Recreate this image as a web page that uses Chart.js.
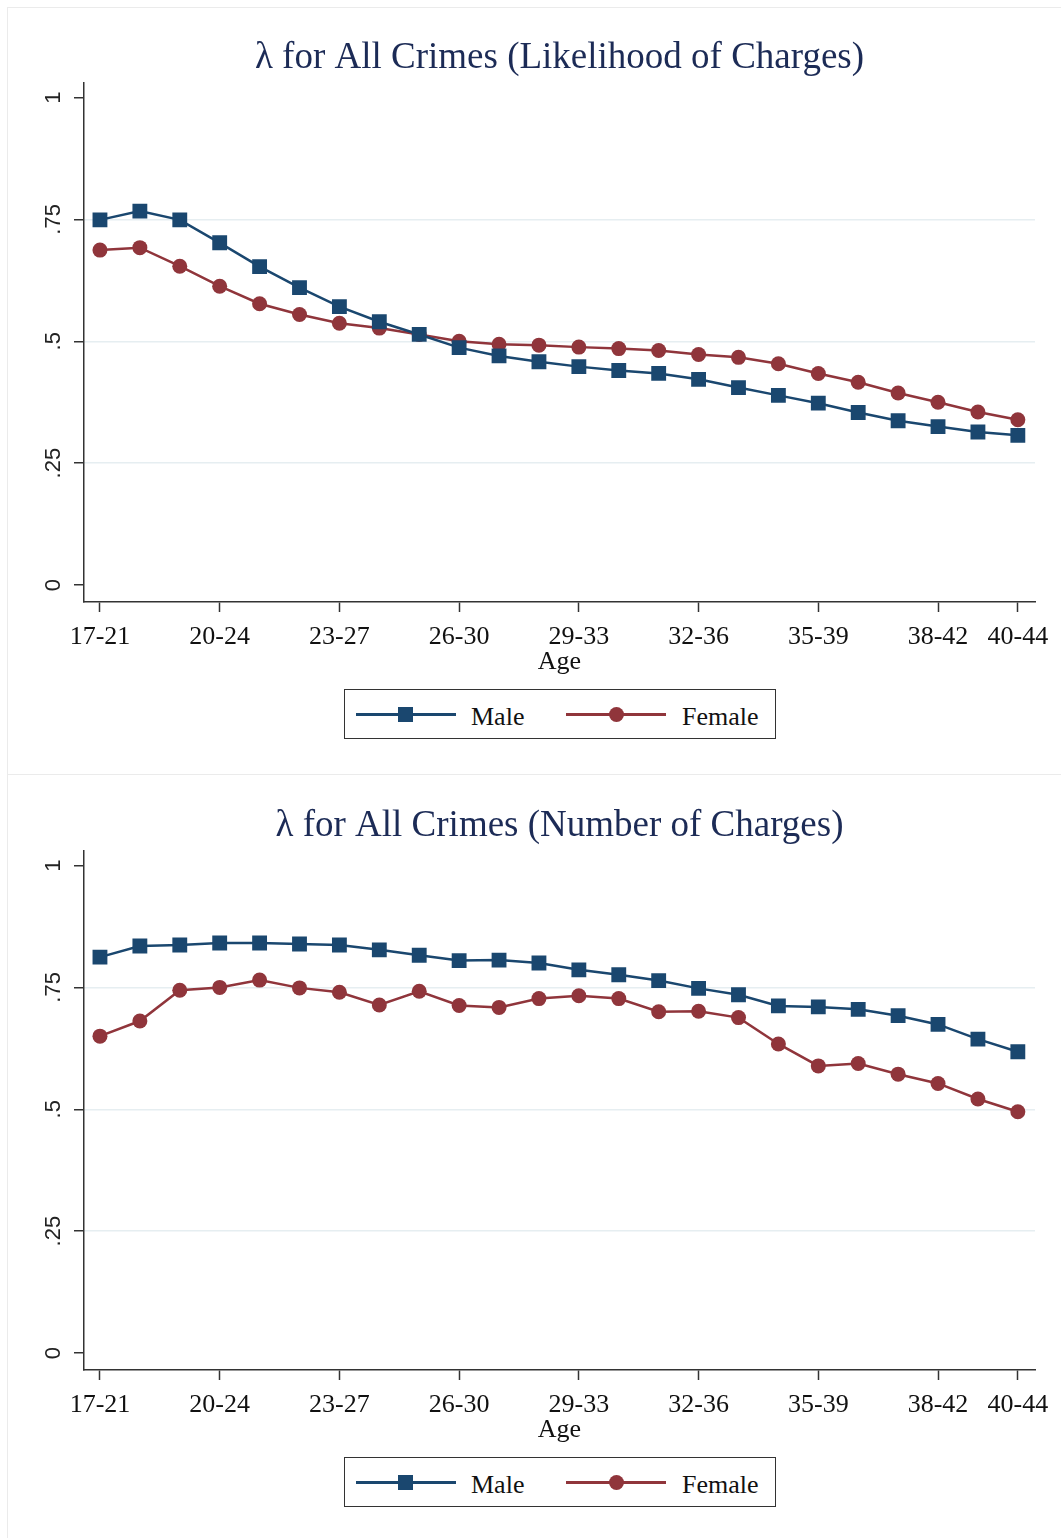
<!DOCTYPE html>
<html>
<head>
<meta charset="utf-8">
<script src="https://cdn.jsdelivr.net/npm/chart.js@4.4.0/dist/chart.umd.min.js"></script>
<style>
    body { margin: 0; background: #fff; }
    #lienzo { position: relative; width: 1061px; height: 1538px; overflow: hidden; background: #fff; }
    .panel { position: absolute; left: 7px; width: 1070px; border: 1px solid #ebebeb; box-sizing: border-box; }
    .caja-grafico { position: absolute; left: 0; width: 1061px; height: 700px; }
    .leyenda { position: absolute; left: 344px; width: 432px; height: 50px; border: 1.5px solid #333;
               box-sizing: border-box; background: #fff; font-family: 'Liberation Serif', serif; font-size: 26px; color: #111; }
    .leyenda .linea { position: absolute; height: 2.5px; top: 23px; width: 100px; }
    .leyenda .marca { position: absolute; width: 15px; height: 15px; top: 17px; }
    .leyenda .texto { position: absolute; top: 12px; line-height: 30px; }
</style>
</head>
<body>
<div id="lienzo">
    <div class="panel" style="top:7px; height:768px;"></div>
    <div class="panel" style="top:774px; height:780px;"></div>

    <div class="caja-grafico" style="top:0px;"><canvas id="grafico-probabilidad" width="1061" height="700"></canvas></div>
    <div class="caja-grafico" style="top:768px;"><canvas id="grafico-numero" width="1061" height="700"></canvas></div>

    <div class="leyenda" style="top:689px;">
        <div class="linea" style="left:11px; background:#1a476f;"></div>
        <div class="marca" style="left:53px; background:#1a476f;"></div>
        <div class="texto" style="left:126px;">Male</div>
        <div class="linea" style="left:221px; background:#90353b;"></div>
        <div class="marca" style="left:264px; background:#90353b; border-radius:50%;"></div>
        <div class="texto" style="left:337px;">Female</div>
    </div>
    <div class="leyenda" style="top:1457px;">
        <div class="linea" style="left:11px; background:#1a476f;"></div>
        <div class="marca" style="left:53px; background:#1a476f;"></div>
        <div class="texto" style="left:126px;">Male</div>
        <div class="linea" style="left:221px; background:#90353b;"></div>
        <div class="marca" style="left:264px; background:#90353b; border-radius:50%;"></div>
        <div class="texto" style="left:337px;">Female</div>
    </div>
</div>

<script>
// ===========================================================
// datos de las dos graficas
// ===========================================================

// categorias del eje x: ventanas de edad de 5 años
const edades = ['17-21', '18-22', '19-23', '20-24', '21-25', '22-26', '23-27', '24-28',
                '25-29', '26-30', '27-31', '28-32', '29-33', '30-34', '31-35', '32-36',
                '33-37', '34-38', '35-39', '36-40', '37-41', '38-42', '39-43', '40-44'];

// posiciones (indices) de las edades que llevan etiqueta en el eje x
const marcas_x = [0, 3, 6, 9, 12, 15, 18, 21, 23];

// marcas del eje y
const marcas_y = [0, 0.25, 0.5, 0.75, 1];

// grafica de arriba: probabilidad de cargos
const probabilidad_hombres = [0.749, 0.767, 0.749, 0.702, 0.653, 0.610, 0.571, 0.540,
                              0.514, 0.487, 0.470, 0.458, 0.448, 0.440, 0.434, 0.422,
                              0.405, 0.389, 0.373, 0.354, 0.337, 0.325, 0.314, 0.307];
const probabilidad_mujeres = [0.687, 0.692, 0.654, 0.613, 0.577, 0.555, 0.537, 0.527,
                              0.514, 0.500, 0.494, 0.492, 0.488, 0.485, 0.481, 0.473,
                              0.467, 0.454, 0.434, 0.416, 0.394, 0.375, 0.355, 0.339];

// grafica de abajo: numero de cargos
const numero_hombres = [0.812, 0.835, 0.837, 0.841, 0.841, 0.839, 0.837, 0.827,
                        0.816, 0.805, 0.806, 0.800, 0.786, 0.776, 0.764, 0.748,
                        0.735, 0.712, 0.710, 0.705, 0.692, 0.674, 0.644, 0.618];
const numero_mujeres = [0.650, 0.681, 0.744, 0.750, 0.765, 0.749, 0.740, 0.714,
                        0.742, 0.713, 0.709, 0.727, 0.733, 0.727, 0.700, 0.701,
                        0.688, 0.634, 0.589, 0.594, 0.572, 0.553, 0.521, 0.495];

const color_hombres = '#1a476f';
const color_mujeres = '#90353b';
const fuente_serif = "'Liberation Serif', 'Times New Roman', serif";


// -----------------------------------------------------------
// plugin: etiquetas_y_rotadas
// chart.js no rota las etiquetas del eje y, asi que se dibujan
// a mano en la posicion que da la propia escala.
// ademas centra el titulo sobre el area de la grafica
// -----------------------------------------------------------
const etiquetas_y_rotadas = {
    id: 'etiquetas_y_rotadas',
    afterLayout(chart) {
        // el titulo se centra sobre el area de dibujo, como en stata
        if (chart.titleBlock) {
            chart.titleBlock.left = chart.chartArea.left;
            chart.titleBlock.right = chart.chartArea.right;
        }
    },
    afterDraw(chart) {
        const escala = chart.scales.y;
        const ctx = chart.ctx;
        ctx.save();
        ctx.fillStyle = '#222';
        ctx.font = "22px 'Liberation Sans', Arial, sans-serif";
        ctx.textAlign = 'center';
        ctx.textBaseline = 'middle';
        escala.ticks.forEach(marca => {
            const y = escala.getPixelForValue(marca.value);
            const texto = marca.value === 0 || marca.value === 1
                ? String(marca.value)
                : String(marca.value).replace('0.', '.');
            ctx.save();
            ctx.translate(54, y);
            ctx.rotate(-Math.PI / 2);
            ctx.fillText(texto, 0, 0);
            ctx.restore();
        });
        ctx.restore();
    }
};


// -----------------------------------------------------------
// funcion: crear_grafico
// arma una de las dos graficas de lineas (hombres y mujeres)
// -----------------------------------------------------------
function crear_grafico(id, titulo, datos_hombres, datos_mujeres) {

    const contexto = document.getElementById(id).getContext('2d');

    return new Chart(contexto, {
        type: 'line',
        data: {
            datasets: [{
                label: 'Male',
                data: datos_hombres.map((valor, indice) => ({ x: indice, y: valor })),
                borderColor: color_hombres,
                backgroundColor: color_hombres,
                borderWidth: 2.5,
                pointStyle: 'rect',
                pointRadius: 10.5,
                pointBorderWidth: 0,
                tension: 0
            }, {
                label: 'Female',
                data: datos_mujeres.map((valor, indice) => ({ x: indice, y: valor })),
                borderColor: color_mujeres,
                backgroundColor: color_mujeres,
                borderWidth: 2.5,
                pointStyle: 'circle',
                pointRadius: 7.5,
                pointBorderWidth: 0,
                tension: 0
            }]
        },
        options: {
            responsive: false,
            animation: false,
            layout: { padding: { left: 0, right: 26, top: 0, bottom: 0 } },
            plugins: {
                legend: { display: false },
                tooltip: { enabled: false },
                title: {
                    display: true,
                    text: titulo,
                    color: '#1c2b56',
                    font: { family: fuente_serif, size: 37, weight: 'normal' },
                    padding: { top: 36, bottom: 2 }
                }
            },
            scales: {
                x: {
                    type: 'linear',
                    min: -0.4,
                    max: 23.43,
                    afterBuildTicks: escala => { escala.ticks = marcas_x.map(v => ({ value: v })); },
                    afterFit: escala => { escala.height = 98; escala.paddingLeft = 0; escala.paddingRight = 0; },
                    ticks: {
                        autoSkip: false,
                        maxRotation: 0,
                        minRotation: 0,
                        padding: 10,
                        color: '#111',
                        font: { family: fuente_serif, size: 26 },
                        callback: valor => edades[valor]
                    },
                    grid: { drawOnChartArea: false, tickLength: 10, tickColor: '#333', tickWidth: 1.5 },
                    border: { color: '#333', width: 1.5 },
                    title: {
                        display: true,
                        text: 'Age',
                        color: '#111',
                        font: { family: fuente_serif, size: 26 },
                        padding: { top: 0, bottom: 22 }
                    }
                },
                y: {
                    min: -0.0348,
                    max: 1.031,
                    afterBuildTicks: escala => { escala.ticks = marcas_y.map(v => ({ value: v })); },
                    afterFit: escala => { escala.width = 84; escala.paddingTop = 0; escala.paddingBottom = 0; },
                    ticks: { display: false },
                    grid: {
                        color: c => (c.tick && c.tick.value > 0 && c.tick.value < 1) ? '#e6eef1' : 'rgba(0,0,0,0)',
                        lineWidth: 1.5,
                        tickLength: 10,
                        tickColor: '#333',
                        tickWidth: 1.5
                    },
                    border: { color: '#333', width: 1.5 }
                }
            }
        },
        plugins: [etiquetas_y_rotadas]
    });
}

crear_grafico('grafico-probabilidad', 'λ for All Crimes (Likelihood of Charges)',
              probabilidad_hombres, probabilidad_mujeres);
crear_grafico('grafico-numero', 'λ for All Crimes (Number of Charges)',
              numero_hombres, numero_mujeres);
</script>
</body>
</html>
